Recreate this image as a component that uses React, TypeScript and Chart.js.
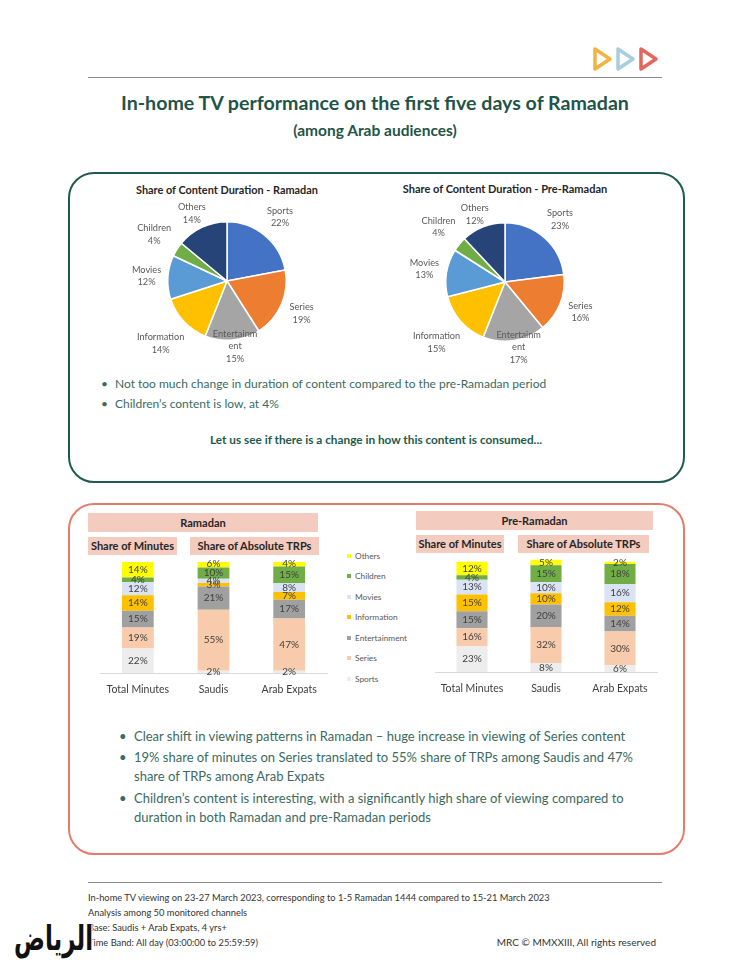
import React, { useEffect, useRef } from 'react';
import { Chart, registerables } from 'chart.js';

Chart.register(...registerables);

// ---------- DATA ----------
const contentTypes = ['Sports', 'Series', 'Entertainment', 'Information', 'Movies', 'Children', 'Others'];

const pieRamadan = [22, 19, 15, 14, 12, 4, 14];
const piePreRamadan = [23, 16, 17, 15, 13, 4, 12];

const barCategories = ['Total Minutes', 'Saudis', 'Arab Expats'];

const ramadanSports = [22, 2, 2];
const ramadanSeries = [19, 55, 47];
const ramadanEntertainment = [15, 21, 17];
const ramadanInformation = [14, 3, 7];
const ramadanMovies = [12, 4, 8];
const ramadanChildren = [4, 10, 15];
const ramadanOthers = [14, 6, 4];

const preSports = [23, 8, 6];
const preSeries = [16, 32, 30];
const preEntertainment = [15, 20, 14];
const preInformation = [15, 10, 12];
const preMovies = [13, 10, 16];
const preChildren = [4, 15, 18];
const preOthers = [12, 5, 2];

// ---------- STYLE ----------
const pieColors = ['#4472C4', '#ED7D31', '#A5A5A5', '#FFC000', '#5B9BD5', '#70AD47', '#264478'];
const barColors = ['#EDEDED', '#F8CBAD', '#A0A0A0', '#FFC000', '#DAE3F3', '#70AD47', '#FFFF00'];
const FONT = 'Lato, "Open Sans", sans-serif';

function wrapLabel(label: string): string[] {
  if (label.length > 12) return [label.slice(0, 10), label.slice(10)];
  return [label];
}

const pieLabelPlugin = {
  id: 'pieLabels',
  afterDatasetsDraw(chart: any) {
    const ctx = chart.ctx;
    const meta = chart.getDatasetMeta(0);
    const data = chart.data.datasets[0].data;
    const labels = chart.data.labels;
    const lh = 12.5;
    ctx.save();
    ctx.font = `9.2px ${FONT}`;
    ctx.fillStyle = '#595959';
    ctx.textAlign = 'center';
    ctx.textBaseline = 'middle';
    meta.data.forEach((arc: any, i: number) => {
      const p = arc.getProps(['x', 'y', 'startAngle', 'endAngle', 'outerRadius'], true);
      const mid = (p.startAngle + p.endAngle) / 2;
      const lines = [...wrapLabel(labels[i]), data[i] + '%'];
      const w = Math.max(...lines.map((l: string) => ctx.measureText(l).width));
      const h = lines.length * lh;
      const c = Math.cos(mid);
      const s = Math.sin(mid);
      const d = p.outerRadius + 6 + Math.abs(c) * w / 2 + Math.abs(s) * h / 2;
      let cx = p.x + c * d;
      let cy = p.y + s * d;
      cy = Math.min(Math.max(cy, h / 2 + 1), chart.height - h / 2 - 1);
      cx = Math.min(Math.max(cx, w / 2 + 1), chart.width - w / 2 - 1);
      lines.forEach((l: string, k: number) => ctx.fillText(l, cx, cy - h / 2 + lh / 2 + k * lh));
    });
    ctx.restore();
  },
};

const barLabelPlugin = {
  id: 'barLabels',
  afterDatasetsDraw(chart: any) {
    const ctx = chart.ctx;
    ctx.save();
    ctx.font = `10px ${FONT}`;
    ctx.fillStyle = '#404040';
    ctx.textAlign = 'center';
    ctx.textBaseline = 'middle';
    chart.data.datasets.forEach((ds: any, di: number) => {
      const meta = chart.getDatasetMeta(di);
      meta.data.forEach((bar: any, i: number) => {
        const p = bar.getProps(['x', 'y', 'base'], true);
        ctx.fillText(ds.data[i] + '%', p.x, (p.y + p.base) / 2);
      });
    });
    ctx.restore();
  },
};

function PieChart({ values, left, top }: { values: number[]; left: number; top: number }) {
  const ref = useRef<HTMLCanvasElement>(null);
  useEffect(() => {
    const chart = new Chart(ref.current!, {
      type: 'pie',
      data: {
        labels: contentTypes,
        datasets: [{ data: values, backgroundColor: pieColors, borderColor: '#ffffff', borderWidth: 1.5 }],
      },
      options: {
        responsive: false,
        animation: false,
        layout: { padding: { left: 57, right: 57, top: 21, bottom: 25 } },
        plugins: { legend: { display: false }, tooltip: { enabled: false } },
      },
      plugins: [pieLabelPlugin],
    } as any);
    return () => chart.destroy();
  }, []);
  return (
    <canvas ref={ref} width={234} height={166} style={{ position: 'absolute', left, top, width: 234, height: 166 }} />
  );
}

function StackedBars({ series, left, top, width, height, padding }: any) {
  const ref = useRef<HTMLCanvasElement>(null);
  useEffect(() => {
    const chart = new Chart(ref.current!, {
      type: 'bar',
      data: {
        labels: barCategories,
        datasets: contentTypes.map((name, k) => ({
          label: name,
          data: series[k],
          backgroundColor: barColors[k],
          barPercentage: 0.42,
          categoryPercentage: 1,
        })),
      },
      options: {
        responsive: false,
        animation: false,
        layout: { padding },
        scales: {
          x: {
            stacked: true,
            grid: { display: false, drawTicks: false },
            border: { display: true, color: '#D9D9D9', width: 1 },
            ticks: { color: '#404040', font: { family: FONT, size: 10.5 }, padding: 10, maxRotation: 0 },
            afterFit: (scale: any) => { scale.height = 23; },
          },
          y: { stacked: true, display: false, min: 0, max: 100 },
        },
        plugins: { legend: { display: false }, tooltip: { enabled: false } },
      },
      plugins: [barLabelPlugin],
    } as any);
    return () => chart.destroy();
  }, []);
  return (
    <canvas ref={ref} width={width} height={height} style={{ position: 'absolute', left, top, width, height }} />
  );
}

const abs = (s: React.CSSProperties): React.CSSProperties => ({ position: 'absolute', ...s });

function HeaderBox({ left, top, width, height, text }: any) {
  return (
    <div
      style={abs({
        left, top, width, height, background: '#F3CBBF', color: '#262626', fontWeight: 700,
        fontSize: 11, lineHeight: height + 'px', textAlign: 'center', whiteSpace: 'nowrap',
      })}
    >
      {text}
    </div>
  );
}

const legendY = [556, 576, 597, 617, 638, 658, 679];

export default function App() {
  const ramadanSeriesList = [ramadanSports, ramadanSeries, ramadanEntertainment, ramadanInformation, ramadanMovies, ramadanChildren, ramadanOthers];
  const preSeriesList = [preSports, preSeries, preEntertainment, preInformation, preMovies, preChildren, preOthers];
  const teal = '#1F5449';
  const textTeal = '#3A6A62';
  const bulletLine = (top: number, left: number, text: string, bullet: boolean, size: number, bx: number) => (
    <React.Fragment key={top}>
      {bullet && <div style={abs({ left: bx, top, fontSize: size, lineHeight: '20px', color: textTeal })}>•</div>}
      <div style={abs({ left, top, fontSize: size, lineHeight: '20px', color: textTeal, whiteSpace: 'nowrap' })}>{text}</div>
    </React.Fragment>
  );
  return (
    <div style={abs({ left: 0, top: 0, width: 750, height: 971, background: '#ffffff', fontFamily: FONT, overflow: 'hidden' })}>
      {/* logo triangles */}
      <svg style={abs({ left: 588, top: 44, width: 75, height: 30 })} width={75} height={30}>
        {['#F2B441', '#A9CCDF', '#E2685C'].map((c, i) => {
          const x0 = 7 + i * 23;
          return (
            <path key={c} d={`M ${x0} 5 L ${x0 + 15} 15 L ${x0} 25 Z`} fill="none" stroke={c} strokeWidth={3.5} strokeLinejoin="round" />
          );
        })}
      </svg>
      <div style={abs({ left: 88, top: 77, width: 574, height: 1, background: '#8C8C8C' })} />

      <div style={abs({ left: 0, top: 91, width: 750, textAlign: 'center', fontSize: 19.6, fontWeight: 700, lineHeight: '24px', color: teal })}>
        In-home TV performance on the first five days of Ramadan
      </div>
      <div style={abs({ left: 0, top: 121, width: 750, textAlign: 'center', fontSize: 15.5, fontWeight: 700, lineHeight: '18px', color: teal })}>
        (among Arab audiences)
      </div>

      {/* green box */}
      <div style={abs({ left: 68, top: 172, width: 617, height: 311, border: '2px solid #1E5B4C', borderRadius: 26, boxSizing: 'border-box' })} />
      <div style={abs({ left: 127, top: 183, width: 200, textAlign: 'center', fontSize: 10.9, fontWeight: 700, lineHeight: '14px', color: '#262626', whiteSpace: 'nowrap' })}>
        Share of Content Duration - Ramadan
      </div>
      <div style={abs({ left: 385, top: 182, width: 240, textAlign: 'center', fontSize: 11, fontWeight: 700, lineHeight: '14px', color: '#262626', whiteSpace: 'nowrap' })}>
        Share of Content Duration - Pre-Ramadan
      </div>
      <PieChart values={pieRamadan} left={110} top={200} />
      <PieChart values={piePreRamadan} left={388} top={201} />
      {bulletLine(374, 115, 'Not too much change in duration of content compared to the pre-Ramadan period', true, 12, 101)}
      {bulletLine(394, 115, 'Children’s content is low, at 4%', true, 12, 101)}
      <div style={abs({ left: 0, top: 430, width: 752, textAlign: 'center', fontSize: 11.8, fontWeight: 700, lineHeight: '20px', color: '#1E5B4C' })}>
        Let us see if there is a change in how this content is consumed...
      </div>

      {/* red box */}
      <div style={abs({ left: 68, top: 503, width: 617, height: 352, border: '2px solid #E27D6E', borderRadius: 26, boxSizing: 'border-box' })} />
      <HeaderBox left={88} top={513} width={230} height={19} text="Ramadan" />
      <HeaderBox left={88} top={537} width={89} height={18} text="Share of Minutes" />
      <HeaderBox left={190} top={537} width={129} height={18} text="Share of Absolute TRPs" />
      <HeaderBox left={416} top={511} width={237} height={19} text="Pre-Ramadan" />
      <HeaderBox left={416} top={535} width={88} height={18} text="Share of Minutes" />
      <HeaderBox left={518} top={535} width={131} height={18} text="Share of Absolute TRPs" />

      <StackedBars series={ramadanSeriesList} left={88} top={556} width={245} height={144} padding={{ left: 12, right: 6, top: 6, bottom: 4 }} />
      <StackedBars series={preSeriesList} left={425} top={553} width={240} height={146} padding={{ left: 10, right: 8, top: 6.5, bottom: 4 }} />

      {/* legend */}
      {contentTypes.map((name, k) => (
        <React.Fragment key={name}>
          <div style={abs({ left: 347, top: legendY[6 - k] - 2, width: 4, height: 4, background: barColors[k] })} />
          <div style={abs({ left: 355, top: legendY[6 - k] - 6, fontSize: 8.3, lineHeight: '12px', color: '#595959' })}>{contentTypes[k]}</div>
        </React.Fragment>
      ))}

      {bulletLine(726, 134, 'Clear shift in viewing patterns in Ramadan – huge increase in viewing of Series content', true, 13, 119)}
      {bulletLine(747, 134, '19% share of minutes on Series translated to 55% share of TRPs among Saudis and 47%', true, 13, 119)}
      {bulletLine(766, 134, 'share of TRPs among Arab Expats', false, 13, 119)}
      {bulletLine(788, 134, 'Children’s content is interesting, with a significantly high share of viewing compared to', true, 13, 119)}
      {bulletLine(807, 134, 'duration in both Ramadan and pre-Ramadan periods', false, 13, 119)}

      {/* footer */}
      <div style={abs({ left: 88, top: 882, width: 574, height: 1, background: '#8C8C8C' })} />
      {[
        'In-home TV viewing on 23-27 March 2023, corresponding to 1-5 Ramadan 1444 compared to 15-21 March 2023',
        'Analysis among 50 monitored channels',
        'Base: Saudis + Arab Expats, 4 yrs+',
        'Time Band: All day (03:00:00 to 25:59:59)',
      ].map((t, i) => (
        <div key={t} style={abs({ left: 88, top: 889.5 + i * 15, fontSize: 9.3, lineHeight: '15px', color: '#333333', whiteSpace: 'nowrap' })}>{t}</div>
      ))}
      <div style={abs({ left: 0, top: 934.5, width: 656, textAlign: 'right', fontSize: 10, lineHeight: '15px', color: '#333333' })}>
        MRC © MMXXIII, All rights reserved
      </div>
      <div
        dir="rtl"
        style={abs({
          left: 14, top: 918, fontFamily: '"DejaVu Sans", sans-serif', fontWeight: 700, fontSize: 23, lineHeight: '26px',
          color: '#111111', transform: 'scaleY(1.5)', transformOrigin: 'left top',
          textShadow: '0 0 2px #fff, 0 0 2px #fff, 1px 1px 0 #fff, -1px -1px 0 #fff',
        })}
      >
        الرياض
      </div>
    </div>
  );
}
